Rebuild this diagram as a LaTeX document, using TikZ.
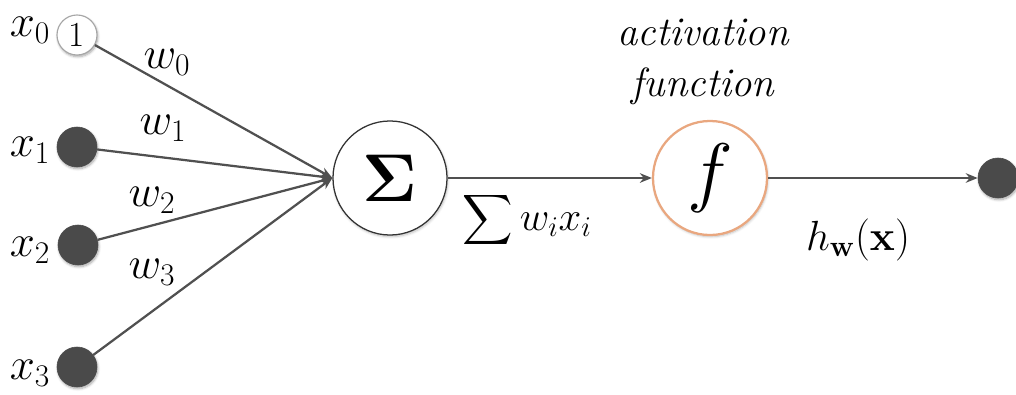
\RequirePackage{fix-cm}
\documentclass[tikz,border=0pt]{standalone}
\usepackage{amsmath}
\usetikzlibrary{arrows.meta,positioning,shadows.blur}
\definecolor{Wire}{HTML}{505050}
\definecolor{Dot}{HTML}{4A4A4A}
\definecolor{Peach}{HTML}{E9A77F}
\tikzset{
  dot/.style={circle, fill=Dot, draw=Dot, minimum size=1cm, inner sep=0pt, blur shadow={shadow blur steps=6, shadow xshift=0.6pt, shadow yshift=-1.2pt, shadow opacity=35}},
  bias/.style={dot, fill=white, draw=gray!70, line width=0.8pt, font=\fontsize{25}{27}\selectfont},
  unit/.style={circle, draw=black!80, fill=white, line width=0.9pt, minimum size=2.85cm, inner sep=0pt, blur shadow={shadow blur steps=6, shadow xshift=0.6pt, shadow yshift=-1.2pt, shadow opacity=25}},
  act/.style={unit, draw=Peach, line width=1.6pt},
  wire/.style={-{Stealth[length=3mm, width=2.4mm]}, line width=1.6pt, draw=Wire},
  lbl/.style={font=\fontsize{32}{36}\selectfont, inner sep=0pt}
}
\begin{document}
\begin{tikzpicture}[x=0.025cm, y=-0.025cm]
\useasboundingbox (0,0) rectangle (1016,394);
% inputs
\node[bias] (in0) at (77,35) {1};
\node[dot] (in1) at (77,147) {};
\node[dot] (in2) at (78,245) {};
\node[dot] (in3) at (77,367) {};
\node[lbl] (lx0) at (30,30) {$x_0$};
\node[lbl] (lx1) at (30,150) {$x_1$};
\node[lbl] (lx2) at (30,250) {$x_2$};
\node[lbl] (lx3) at (30,373) {$x_3$};
% weights
\node[lbl] (w0) at (167,62) {$w_0$};
\node[lbl] (w1) at (163,128) {$w_1$};
\node[lbl] (w2) at (152,200) {$w_2$};
\node[lbl] (w3) at (152,272) {$w_3$};
% units
\node[unit, font=\fontsize{48}{48}\selectfont] (sum) at (390,178) {$\mathbf{\Sigma}$};
\node[act, font=\fontsize{55}{55}\selectfont] (act) at (710,178) {$f$};
\node[dot] (out) at (998,178) {};
\node[lbl, align=center, font=\fontsize{29}{36}\selectfont\itshape] (actname) at (703,62) {activation\\function};
\node[lbl, font=\fontsize{29}{34}\selectfont] (net) at (527,220) {$\displaystyle\sum w_i x_i$};
\node[lbl, font=\fontsize{30}{34}\selectfont] (hyp) at (858,240) {$h_{\mathbf{w}}(\mathbf{x})$};
% connectors
\foreach \i in {0,...,3} \draw[wire] (in\i) -- (sum.west);
\draw[wire] (sum) -- (act);
\draw[wire] (act) -- (out);
\end{tikzpicture}
\end{document}
